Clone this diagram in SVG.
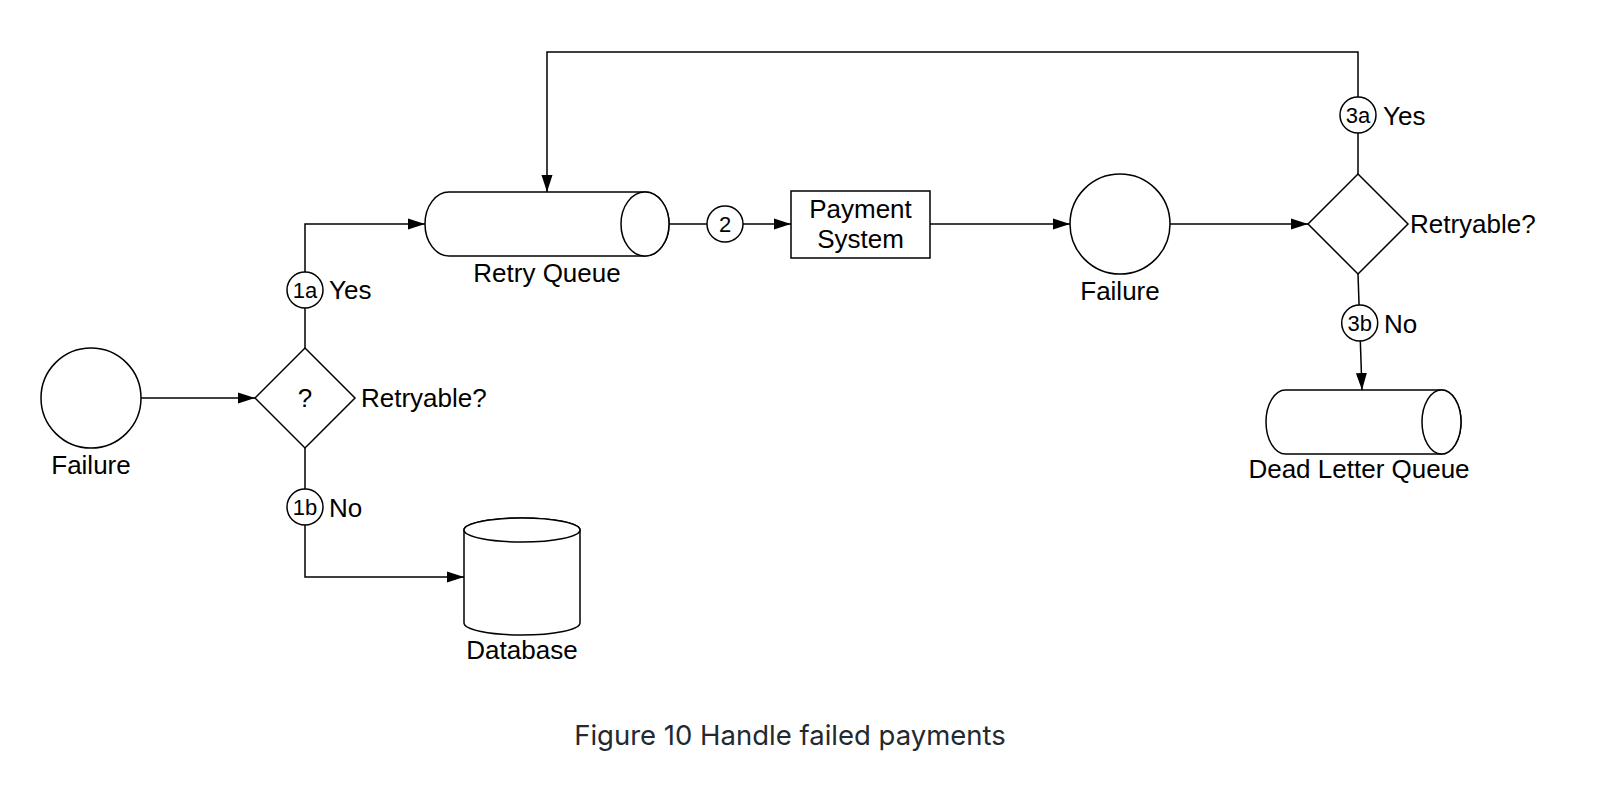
<svg xmlns="http://www.w3.org/2000/svg" width="1618" height="802" viewBox="0 0 1618 802">
  <style>
    .s { fill: #fff; stroke: #000; stroke-width: 1.5; }
    .c { fill: none; stroke: #000; stroke-width: 1.5; }
    .t { font-family: "Liberation Sans", Arial, Helvetica, sans-serif; font-size: 26px; fill: #000; }
    .m { text-anchor: middle; }
    .n { font-family: "Liberation Sans", Arial, Helvetica, sans-serif; font-size: 22px; fill: #000; text-anchor: middle; }
    .cap { font-family: Inter, "Noto Sans", sans-serif; font-size: 27.5px; fill: #24292f; text-anchor: middle; }
  </style>
  <defs>
    <marker id="arr" markerUnits="userSpaceOnUse" markerWidth="17" markerHeight="12" refX="17" refY="6" orient="auto">
      <polygon points="0,0.5 17,6 0,11.5" fill="#000"/>
    </marker>
  </defs>
  <rect width="1618" height="802" fill="#fff"/>

  <g id="connectors">
    <line class="c" x1="141" y1="398" x2="255" y2="398" marker-end="url(#arr)"/>
    <polyline class="c" points="305,348 305,224 425,224" marker-end="url(#arr)"/>
    <polyline class="c" points="305,448 305,577 464,577" marker-end="url(#arr)"/>
    <line class="c" x1="669" y1="224" x2="707" y2="224"/>
    <line class="c" x1="743" y1="224" x2="791" y2="224" marker-end="url(#arr)"/>
    <line class="c" x1="930" y1="224" x2="1070" y2="224" marker-end="url(#arr)"/>
    <line class="c" x1="1170" y1="224" x2="1308" y2="224" marker-end="url(#arr)"/>
    <polyline class="c" points="1358,174 1358,52 547,52 547,192" marker-end="url(#arr)"/>
    <line class="c" x1="1358" y1="274" x2="1362" y2="390" marker-end="url(#arr)"/>
  </g>

  <g id="failure1">
    <circle class="s" cx="91" cy="398" r="50"/>
    <text class="t m" x="91" y="474">Failure</text>
  </g>

  <g id="decision1">
    <polygon class="s" points="305,348 355,398 305,448 255,398"/>
    <text class="t m" x="305" y="407">?</text>
    <text class="t" x="361" y="407">Retryable?</text>
  </g>

  <g id="step1a">
    <circle class="s" cx="305" cy="290" r="18"/>
    <text class="n" x="305" y="298">1a</text>
    <text class="t" x="329" y="299">Yes</text>
  </g>

  <g id="step1b">
    <circle class="s" cx="305" cy="507" r="18"/>
    <text class="n" x="305" y="515">1b</text>
    <text class="t" x="329" y="517">No</text>
  </g>

  <g id="database">
    <path class="s" d="M464,530 L464,623 A58,12 0 0 0 580,623 L580,530 A58,12 0 0 0 464,530 Z"/>
    <ellipse class="s" cx="522" cy="530" rx="58" ry="12"/>
    <text class="t m" x="522" y="659">Database</text>
  </g>

  <g id="retry-queue">
    <path class="s" d="M449,192 L645,192 A24,32 0 0 1 645,256 L449,256 A24,32 0 0 1 449,192 Z"/>
    <ellipse class="s" cx="645" cy="224" rx="24" ry="32"/>
    <text class="t m" x="547" y="282">Retry Queue</text>
  </g>

  <g id="step2">
    <circle class="s" cx="725" cy="224" r="18"/>
    <text class="n" x="725" y="232">2</text>
  </g>

  <g id="payment-system">
    <rect class="s" x="791" y="191" width="139" height="67"/>
    <text class="t m" x="860.5" y="218">Payment</text>
    <text class="t m" x="860.5" y="248">System</text>
  </g>

  <g id="failure2">
    <circle class="s" cx="1120" cy="224" r="50"/>
    <text class="t m" x="1120" y="300">Failure</text>
  </g>

  <g id="decision2">
    <polygon class="s" points="1358,174 1408,224 1358,274 1308,224"/>
    <text class="t" x="1410" y="233">Retryable?</text>
  </g>

  <g id="step3a">
    <circle class="s" cx="1358" cy="115" r="18"/>
    <text class="n" x="1358" y="123">3a</text>
    <text class="t" x="1383" y="125">Yes</text>
  </g>

  <g id="step3b">
    <circle class="s" cx="1359.7" cy="323" r="18"/>
    <text class="n" x="1359.7" y="331">3b</text>
    <text class="t" x="1384" y="333">No</text>
  </g>

  <g id="dead-letter-queue">
    <path class="s" d="M1285.5,390 L1441.5,390 A19.5,32 0 0 1 1441.5,454 L1285.5,454 A19.5,32 0 0 1 1285.5,390 Z"/>
    <ellipse class="s" cx="1441.5" cy="422" rx="19.5" ry="32"/>
    <text class="t m" x="1359" y="478">Dead Letter Queue</text>
  </g>

  <text class="cap" x="790" y="745">Figure 10 Handle failed payments</text>
</svg>
